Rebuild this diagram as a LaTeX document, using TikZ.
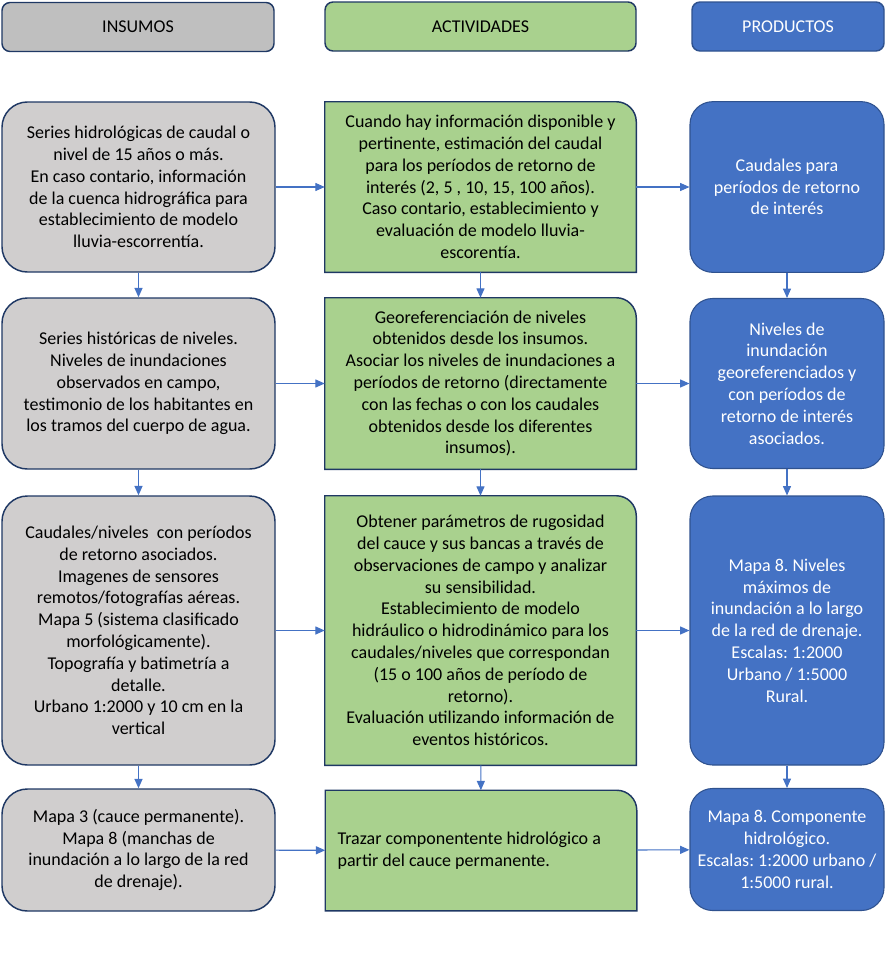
\documentclass[tikz,border=0pt]{standalone}
\usepackage{fontspec}
\setmainfont{Carlito}
\usetikzlibrary{arrows.meta, backgrounds}
\definecolor{grisencab}{HTML}{BFBFBF}
\definecolor{gris}{HTML}{D0CECE}
\definecolor{verde}{HTML}{A9D18E}
\definecolor{azul}{HTML}{4472C4}
\definecolor{azulborde}{HTML}{2F528F}
\definecolor{marino}{HTML}{1F3864}
\frenchspacing

\begin{document}
\begin{tikzpicture}[x=0.75pt, y=-0.75pt, >={Triangle[length=7pt,width=6pt]},
  txt/.style={align=center, font=\fontsize{13.5}{16.35}\selectfont, inner sep=0pt},
  encab/.style={txt, draw=marino, line width=1.1pt, rounded corners=6pt, minimum height=36.75pt},
  insumo/.style={txt, draw=marino, line width=1.1pt, fill=gris, rounded corners=19pt, minimum width=204.75pt},
  actividad/.style={txt, minimum width=233.25pt},
  producto/.style={txt, draw=azulborde, line width=0.8pt, fill=azul, text=white, rounded corners=17pt, minimum width=145.5pt},
  flecha/.style={->, draw=azul, line width=0.8pt}]
\useasboundingbox (0,0) rectangle (886,978);

% encabezados
\node[encab, fill=grisencab, minimum width=204pt] (insumos) at (138,27) {INSUMOS};
\node[encab, fill=verde, minimum width=233.25pt] (actividades) at (480.5,26.5) {ACTIVIDADES};
\node[encab, fill=azul, draw=azulborde, text=white, minimum width=144pt] (productos) at (788,26.5) {PRODUCTOS};

% fila 1
\node[insumo, minimum height=127.5pt] (ins1) at (138.5,187) {Series hidrológicas de caudal o\\nivel de 15 años o más.\\En caso contario, información\\de la cuenca hidrográfica para\\establecimiento de modelo\\lluvia-escorrentía.};
\node[actividad, minimum height=127.5pt] (act1) at (480.5,187) {Cuando hay información disponible y\\pertinente, estimación del caudal\\para los períodos de retorno de\\interés (2, 5 , 10, 15, 100 años).\\Caso contario, establecimiento y\\evaluación de modelo lluvia-\\escorentía.};
\node[producto, minimum height=128pt] (pro1) at (787,187) {Caudales para\\períodos de retorno\\de interés};

% fila 2
\node[insumo, minimum height=128.25pt] (ins2) at (138.5,383.5) {Series históricas de niveles.\\Niveles de inundaciones\\observados en campo,\\testimonio de los habitantes en\\los tramos del cuerpo de agua.};
\node[actividad, minimum height=128.25pt] (act2) at (480.5,383.5) {Georeferenciación de niveles\\obtenidos desde los insumos.\\Asociar los niveles de inundaciones a\\períodos de retorno (directamente\\con las fechas o con los caudales\\obtenidos desde los diferentes\\insumos).};
\node[producto, minimum height=127.5pt] (pro2) at (787,383.5) {Niveles de\\inundación\\georeferenciados y\\con períodos de\\retorno de interés\\asociados.};

% fila 3
\node[insumo, minimum height=201.75pt] (ins3) at (138.5,630.5) {Caudales/niveles\ \ con períodos\\de retorno asociados.\\Imagenes de sensores\\remotos/fotografías aéreas.\\Mapa 5 (sistema clasificado\\morfológicamente).\\Topografía y batimetría a\\detalle.\\Urbano 1:2000 y 10 cm en la\\vertical};
\node[actividad, minimum height=201.75pt] (act3) at (480.5,630.5) {Obtener parámetros de rugosidad\\del cauce y sus bancas a través de\\observaciones de campo y analizar\\su sensibilidad.\\Establecimiento de modelo\\hidráulico o hidrodinámico para los\\caudales/niveles que correspondan\\(15 o 100 años de período de\\retorno).\\Evaluación utilizando información de\\eventos históricos.};
\node[producto, minimum height=201.75pt] (pro3) at (787,630.5) {Mapa 8. Niveles\\máximos de\\inundación a lo largo\\de la red de drenaje.\\Escalas: 1:2000\\Urbano / 1:5000\\Rural.};

% fila 4
\node[insumo, minimum height=91.5pt] (ins4) at (138.5,850) {Mapa 3 (cauce permanente).\\Mapa 8 (manchas de\\inundación a lo largo de la red\\de drenaje).};
\node[actividad, align=flush left, text width=215pt, minimum height=90pt] (act4) at (481,850.5) {Trazar componentente hidrológico a\\partir del cauce permanente.};
\node[producto, minimum height=91.5pt] (pro4) at (787,849.5) {Mapa 8. Componente\\hidrológico.\\Escalas: 1:2000 urbano /\\1:5000 rural.};

% cajas verdes con una sola esquina redondeada
\begin{scope}[on background layer]
\foreach \n in {act1,act2,act3,act4}
  \draw[draw=marino, line width=1.1pt, fill=verde] (\n.south west) -- (\n.north west) -- ([xshift=-15pt]\n.north east) arc[start angle=90, end angle=0, radius=15pt] -- (\n.south east) -- cycle;
\end{scope}

% flechas
\foreach \i in {1,2,3,4} {
  \draw[flecha] (ins\i) -- (act\i);
  \draw[flecha] (act\i) -- (pro\i);
}
\foreach \i/\j in {1/2,2/3,3/4} {
  \draw[flecha] (ins\i) -- (ins\j);
  \draw[flecha] (act\i) -- (act\j);
  \draw[flecha] (pro\i) -- (pro\j);
}
\end{tikzpicture}
\end{document}
